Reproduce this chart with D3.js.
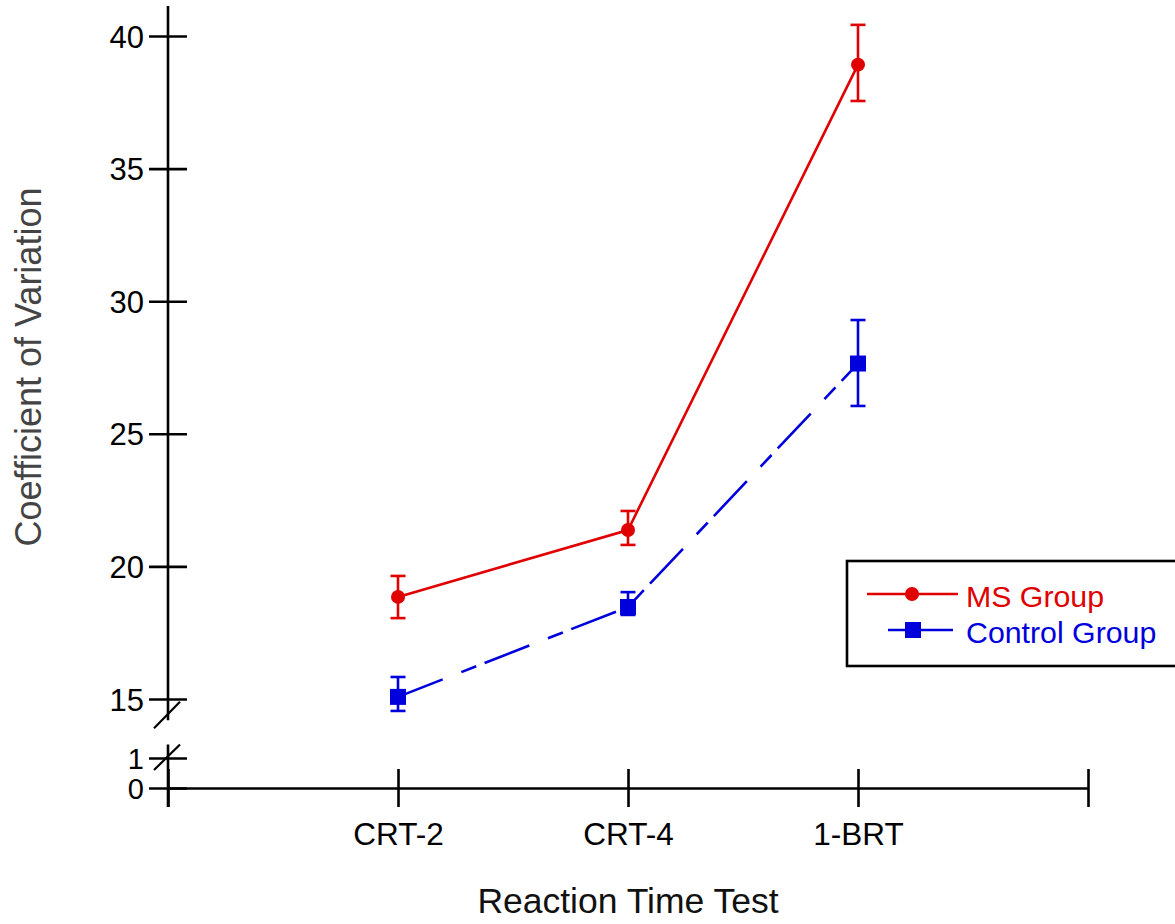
<!DOCTYPE html>
<html>
<head>
<meta charset="utf-8">
<script src="https://cdn.jsdelivr.net/npm/d3@7"></script>
<style>
  html, body { margin: 0; padding: 0; background: #fff; }
  svg { display: block; }
  text { font-family: "Liberation Sans", Arial, sans-serif; }
</style>
</head>
<body>
<svg id="chart" width="1175" height="924"></svg>
<script>
// ---- data ----
const categories = ["CRT-2", "CRT-4", "1-BRT"];
const msMean  = [18.85, 21.37, 38.92];
const msLow   = [18.05, 20.81, 37.55];
const msHigh  = [19.64, 22.09, 40.42];
const ctlMean = [15.08, 18.47, 27.65];
const ctlLow  = [14.55, 18.17, 26.05];
const ctlHigh = [15.83, 19.03, 29.29];
const yTicksUpper = [15, 20, 25, 30, 35, 40];
const yTicksLower = [0, 1];
const seriesNames = ["MS Group", "Control Group"];

const red = "#e00000", blue = "#0000dc";
const svg = d3.select("#chart");

// scales
const xKeys = ["s", ...categories, "e"];
const x = d3.scalePoint().domain(xKeys).range([168, 1088]);
const yU = d3.scaleLinear().domain([15, 40]).range([699, 36]);
const yL = d3.scaleLinear().domain([0, 1]).range([788, 758]);

const axisColor = "#000", axisW = 2.6;

// x axis
const gx = svg.append("g").attr("transform", `translate(0,${yL(0)})`)
  .call(d3.axisBottom(x).tickSize(0).tickPadding(0)
    .tickFormat(d => categories.includes(d) ? d : ""));
gx.select(".domain").attr("stroke", axisColor).attr("stroke-width", axisW);
gx.selectAll(".tick line").attr("y1", -19).attr("y2", 19)
  .attr("stroke", axisColor).attr("stroke-width", axisW);
gx.selectAll(".tick text").attr("y", 57).attr("dy", 0)
  .attr("font-size", 31.5).attr("fill", "#000")
  .style("font-family", "'Liberation Sans', Arial, sans-serif");

// y axis upper
const gyU = svg.append("g").attr("transform", `translate(${x("s")},0)`)
  .call(d3.axisLeft(yU).tickValues(yTicksUpper).tickSize(0).tickPadding(0).tickFormat(d3.format("d")));
gyU.select(".domain").remove();
gyU.selectAll(".tick line").attr("x1", -19).attr("x2", 19)
  .attr("stroke", axisColor).attr("stroke-width", axisW);
gyU.selectAll(".tick text").attr("x", -24).attr("dy", "0.36em")
  .attr("font-size", 31).attr("fill", "#000")
  .style("font-family", "'Liberation Sans', Arial, sans-serif");
gyU.append("line").attr("x1", 0).attr("x2", 0)
  .attr("y1", yU(41.13)).attr("y2", yU(14.2))
  .attr("stroke", axisColor).attr("stroke-width", axisW);

// y axis lower
const gyL = svg.append("g").attr("transform", `translate(${x("s")},0)`)
  .call(d3.axisLeft(yL).tickValues(yTicksLower).tickSize(0).tickPadding(0).tickFormat(d3.format("d")));
gyL.select(".domain").remove();
gyL.selectAll(".tick line").attr("x1", -19).attr("x2", 19)
  .attr("stroke", axisColor).attr("stroke-width", axisW);
gyL.selectAll(".tick text").attr("x", -24).attr("dy", "0.36em")
  .attr("font-size", 29).attr("fill", "#000")
  .style("font-family", "'Liberation Sans', Arial, sans-serif");
gyL.append("line").attr("x1", 0).attr("x2", 0)
  .attr("y1", yL(1.45)).attr("y2", yL(0) + 19)
  .attr("stroke", axisColor).attr("stroke-width", axisW);

// break marks
const bx = x("s");
[[yU(13.9), yU(14.9)], [yL(0.6), yL(1.45)]].forEach(([ya, yb]) => {
  svg.append("line").attr("x1", bx - 14).attr("y1", ya)
    .attr("x2", bx + 12).attr("y2", yb)
    .attr("stroke", axisColor).attr("stroke-width", 2.2);
});

// series
const capW = 7.5;
function drawSeries(mean, low, high, color, dash, marker) {
  const pts = categories.map((c, i) => ({ c, m: mean[i], lo: low[i], hi: high[i] }));
  const line = d3.line().x(d => x(d.c)).y(d => yU(d.m));
  svg.append("path").datum(pts).attr("d", line)
    .attr("fill", "none").attr("stroke", color).attr("stroke-width", 2.6)
    .attr("stroke-dasharray", dash);
  const g = svg.append("g");
  pts.forEach(d => {
    const cx = x(d.c);
    g.append("line").attr("x1", cx).attr("x2", cx).attr("y1", yU(d.lo)).attr("y2", yU(d.hi))
      .attr("stroke", color).attr("stroke-width", 2.6);
    [d.lo, d.hi].forEach(v => g.append("line").attr("x1", cx - capW).attr("x2", cx + capW)
      .attr("y1", yU(v)).attr("y2", yU(v)).attr("stroke", color).attr("stroke-width", 2.6));
    marker(g, cx, yU(d.m));
  });
}
const circ = (g, cx, cy) => g.append("circle").attr("cx", cx).attr("cy", cy).attr("r", 7).attr("fill", red);
const sq = (g, cx, cy) => g.append("rect").attr("x", cx - 8).attr("y", cy - 8).attr("width", 16).attr("height", 16).attr("fill", blue);

drawSeries(msMean, msLow, msHigh, red, null, circ);
drawSeries(ctlMean, ctlLow, ctlHigh, blue, "48,20,16,9", sq);

// legend
const lg = svg.append("g");
lg.append("rect").attr("x", 847).attr("y", 561).attr("width", 400).attr("height", 105)
  .attr("fill", "none").attr("stroke", "#000").attr("stroke-width", 2.6);
lg.append("line").attr("x1", 867).attr("x2", 958).attr("y1", 594).attr("y2", 594)
  .attr("stroke", red).attr("stroke-width", 2.6);
circ(lg, 912, 594);
lg.append("line").attr("x1", 888).attr("x2", 953).attr("y1", 630).attr("y2", 630)
  .attr("stroke", blue).attr("stroke-width", 2.6);
sq(lg, 913, 630);
lg.append("text").attr("x", 966).attr("y", 607).attr("font-size", 30.3).attr("fill", red).text(seriesNames[0]);
lg.append("text").attr("x", 966).attr("y", 643).attr("font-size", 30.3).attr("fill", blue).text(seriesNames[1]);

// axis titles
svg.append("text").attr("x", 628).attr("y", 913).attr("text-anchor", "middle")
  .attr("font-size", 35.5).attr("fill", "#111").text("Reaction Time Test");
svg.append("text").attr("transform", "translate(41,367) rotate(-90)").attr("text-anchor", "middle")
  .attr("font-size", 36).attr("fill", "#444").text("Coefficient of Variation");
</script>
</body>
</html>
